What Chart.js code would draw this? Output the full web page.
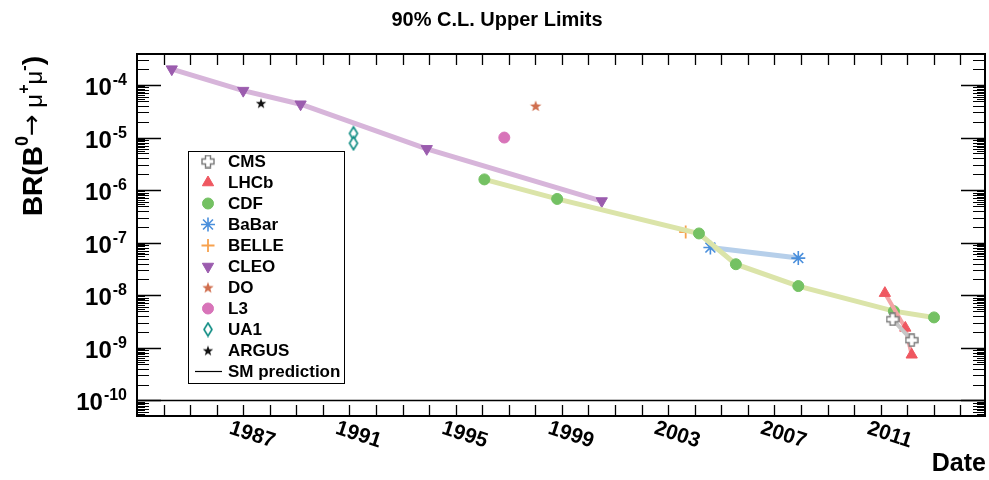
<!DOCTYPE html>
<html>
<head>
<meta charset="utf-8">
<script src="https://cdn.jsdelivr.net/npm/chart.js@4.4.1/dist/chart.umd.min.js"></script>
<style>
  html, body { margin: 0; padding: 0; background: #fff; }
</style>
</head>
<body>
<canvas id="chart" width="989" height="480"></canvas>
<script>
// upper limits on BR(B0 -> mu+ mu-), [decimal year] / [limit]
const cmsYears = [2011.45, 2012.17];
const cmsLimits = [3.5e-9, 1.4e-9];
const lhcbYears = [2011.16, 2011.93, 2012.17];
const lhcbLimits = [1.1e-8, 2.4e-9, 7.4e-10];
const cdfYears = [1996.08, 1998.82, 2004.16, 2005.55, 2007.90, 2011.50, 2013.01];
const cdfLimits = [1.6e-6, 6.8e-7, 1.5e-7, 3.9e-8, 1.5e-8, 5.0e-9, 3.8e-9];
const babarYears = [2004.59, 2007.90];
const babarLimits = [8.1e-8, 5.1e-8];
const belleYears = [2003.66];
const belleLimits = [1.6e-7];
const cleoYears = [1984.31, 1987.0, 1989.16, 1993.91, 2000.50];
const cleoLimits = [2.0e-4, 7.8e-5, 4.3e-5, 6.1e-6, 6.2e-7];
const d0Years = [1998.01];
const d0Limits = [4.0e-5];
const l3Years = [1996.83];
const l3Limits = [1.0e-5];
const ua1Years = [1991.15, 1991.15];
const ua1Limits = [1.2e-5, 7.8e-6];
const argusYears = [1987.67];
const argusLimits = [4.5e-5];

const xTickLabels = ['1987', '1991', '1995', '1999', '2003', '2007', '2011'];
const yTickExponents = [-4, -5, -6, -7, -8, -9, -10];

const FONT = 'Liberation Sans, Arial, Helvetica, sans-serif';

function pts(xs, ys) {
  return xs.map((x, i) => ({ x: x, y: ys[i] }));
}

function makeCanvas(w, h, draw) {
  const c = document.createElement('canvas');
  c.width = w; c.height = h;
  draw(c.getContext('2d'), w, h);
  return c;
}

function starPath(ctx, cx, cy, R, r) {
  ctx.beginPath();
  for (let i = 0; i < 10; i++) {
    const a = -Math.PI / 2 + i * Math.PI / 5;
    const rr = i % 2 ? r : R;
    ctx.lineTo(cx + rr * Math.cos(a), cy + rr * Math.sin(a));
  }
  ctx.closePath();
}

// open cross (CMS)
const openCross = makeCanvas(14, 14, (c) => {
  const a = 2.5, b = 6;
  c.translate(7, 7);
  c.beginPath();
  c.moveTo(-a, -b); c.lineTo(a, -b); c.lineTo(a, -a); c.lineTo(b, -a); c.lineTo(b, a);
  c.lineTo(a, a); c.lineTo(a, b); c.lineTo(-a, b); c.lineTo(-a, a); c.lineTo(-b, a);
  c.lineTo(-b, -a); c.lineTo(-a, -a); c.closePath();
  c.fillStyle = '#fff'; c.fill();
  c.strokeStyle = '#7a7a7a'; c.lineWidth = 1.4; c.stroke();
});
const starD0 = makeCanvas(14, 14, (c) => {
  starPath(c, 7, 7.5, 6, 2.5);
  c.fillStyle = '#d06e4e'; c.fill();
});
const starArgus = makeCanvas(14, 14, (c) => {
  starPath(c, 7, 7.5, 5.5, 2.2);
  c.fillStyle = '#111'; c.fill();
});
const diamondUA1 = makeCanvas(12, 16, (c) => {
  c.beginPath();
  c.moveTo(6, 1.5); c.lineTo(10, 8); c.lineTo(6, 14.5); c.lineTo(2, 8); c.closePath();
  c.fillStyle = '#fff'; c.fill();
  c.strokeStyle = '#0e8c83'; c.lineWidth = 1.6; c.stroke();
});

const series = [
  { label: 'CMS', xs: cmsYears, ys: cmsLimits, line: '#c6c6c6', lw: 4, style: openCross, fill: '#fff', stroke: '#7a7a7a', r: 6 },
  { label: 'LHCb', xs: lhcbYears, ys: lhcbLimits, line: '#f3a3a5', lw: 4, style: 'triangle', fill: '#ef5760', stroke: '#ef5760', r: 6.5 },
  { label: 'CDF', xs: cdfYears, ys: cdfLimits, line: '#dbe4a9', lw: 5, style: 'circle', fill: '#74c163', stroke: '#74c163', r: 5.5 },
  { label: 'BaBar', xs: babarYears, ys: babarLimits, line: '#b6cfea', lw: 5, style: 'star', fill: '#4a8fdc', stroke: '#4a8fdc', r: 7, bw: 1.6 },
  { label: 'BELLE', xs: belleYears, ys: belleLimits, line: null, style: 'cross', fill: '#f7a24f', stroke: '#f7a24f', r: 6.5, bw: 1.8 },
  { label: 'CLEO', xs: cleoYears, ys: cleoLimits, line: '#d7b5da', lw: 5, style: 'triangle', rot: 180, fill: '#9b5cae', stroke: '#9b5cae', r: 6.5 },
  { label: 'DO', xs: d0Years, ys: d0Limits, line: null, style: starD0, fill: '#d06e4e', stroke: '#d06e4e', r: 6 },
  { label: 'L3', xs: l3Years, ys: l3Limits, line: null, style: 'circle', fill: '#d874b9', stroke: '#d874b9', r: 5.5 },
  { label: 'UA1', xs: ua1Years, ys: ua1Limits, line: null, style: diamondUA1, fill: '#fff', stroke: '#0e8c83', r: 6 },
  { label: 'ARGUS', xs: argusYears, ys: argusLimits, line: null, style: starArgus, fill: '#111', stroke: '#111', r: 5 }
];

const datasets = series.map((s) => ({
  label: s.label,
  data: pts(s.xs, s.ys),
  showLine: !!s.line,
  borderColor: s.line || 'transparent',
  borderWidth: s.lw || 0,
  tension: 0,
  pointStyle: s.style,
  pointRotation: s.rot || 0,
  pointRadius: s.r,
  pointBackgroundColor: s.fill,
  pointBorderColor: s.stroke,
  pointBorderWidth: s.bw || 1
}));

function drawMarker(ctx, s, x, y) {
  ctx.save();
  ctx.fillStyle = s.fill;
  ctx.strokeStyle = s.stroke;
  ctx.lineWidth = s.bw || 1;
  Chart.helpers.drawPoint(ctx, { pointStyle: s.style, rotation: s.rot || 0, radius: s.r, borderWidth: s.bw || 1 }, x, y);
  ctx.restore();
}

const frame = {
  id: 'frame',
  afterDraw(chart) {
    const { ctx, chartArea: a, scales: { x, y } } = chart;
    const snap = (v) => Math.round(v) + 0.5;
    ctx.save();
    ctx.strokeStyle = '#000';
    ctx.fillStyle = '#000';

    // frame
    ctx.lineWidth = 2;
    ctx.strokeRect(a.left, a.top, a.right - a.left, a.bottom - a.top);
    const yb = y.getPixelForValue(1e-10);
    ctx.lineWidth = 1.3;
    ctx.beginPath(); ctx.moveTo(a.left, yb); ctx.lineTo(a.right, yb); ctx.stroke();

    // year ticks
    ctx.lineWidth = 1.3;
    ctx.beginPath();
    for (let yr = Math.ceil(x.min + 0.01); yr < x.max; yr++) {
      const p = snap(x.getPixelForValue(yr));
      ctx.moveTo(p, a.top); ctx.lineTo(p, a.top + 11);
      ctx.moveTo(p, a.bottom); ctx.lineTo(p, a.bottom - 11);
    }
    ctx.stroke();

    // log ticks
    const mults = [1, 2, 3, 4, 5, 5.5, 6, 6.5, 7, 7.5, 8, 8.5, 9, 9.5];
    for (let e = -11; e <= -3; e++) {
      mults.forEach((m) => {
        const v = m * Math.pow(10, e);
        if (v < y.min || v > y.max) return;
        const p = snap(y.getPixelForValue(v));
        const len = m === 1 ? 24 : (Number.isInteger(m) ? 12 : 8);
        ctx.lineWidth = m === 1 ? 1.6 : 1;
        ctx.beginPath();
        ctx.moveTo(a.left, p); ctx.lineTo(a.left + len, p);
        ctx.moveTo(a.right, p); ctx.lineTo(a.right - len, p);
        ctx.stroke();
      });
    }

    // y tick labels 10^n
    ctx.textBaseline = 'alphabetic';
    ctx.textAlign = 'left';
    yTickExponents.forEach((e) => {
      const p = y.getPixelForValue(Math.pow(10, e));
      const sup = '-' + String(-e);
      ctx.font = 'bold 24px ' + FONT;
      const w1 = ctx.measureText('10').width;
      ctx.font = 'bold 16px ' + FONT;
      const w2 = ctx.measureText(sup).width;
      const x0 = 126 - w1 - w2;
      ctx.font = 'bold 24px ' + FONT;
      ctx.fillText('10', x0, p + 10);
      ctx.font = 'bold 16px ' + FONT;
      ctx.fillText(sup, x0 + w1 + 1, p);
    });

    // x tick labels (slanted)
    ctx.font = 'bold 21px ' + FONT;
    ctx.textAlign = 'center';
    ctx.textBaseline = 'middle';
    xTickLabels.forEach((lab) => {
      const p = x.getPixelForValue(parseInt(lab, 10));
      ctx.save();
      ctx.translate(p + 9, 435);
      ctx.rotate(18 * Math.PI / 180);
      ctx.fillText(lab, 0, 0);
      ctx.restore();
    });

    // axis titles
    ctx.textAlign = 'right';
    ctx.textBaseline = 'alphabetic';
    ctx.font = 'bold 25px ' + FONT;
    ctx.fillText('Date', 986, 471);

    ctx.textAlign = 'center';
    ctx.font = 'bold 20px ' + FONT;
    ctx.fillText('90% C.L. Upper Limits', 497, 26);

    // y title, rotated
    const parts = [
      ['BR(B', 'bold 28px ' + FONT, 0], ['0', 'bold 18px ' + FONT, -14],
      ['\u2192', '26px DejaVu Sans', -2], [' \u03bc', '24px ' + FONT, 0],
      ['+', 'bold 16px ' + FONT, -13], ['\u03bc', '24px ' + FONT, 0],
      ['-', 'bold 16px ' + FONT, -13], [')', 'bold 28px ' + FONT, 0]
    ];
    ctx.textAlign = 'left';
    let total = 0;
    parts.forEach((pt) => { ctx.font = pt[1]; total += ctx.measureText(pt[0]).width; });
    ctx.save();
    ctx.translate(42, 56 + total);
    ctx.rotate(-Math.PI / 2);
    let cx = 0;
    parts.forEach((pt) => {
      ctx.font = pt[1];
      ctx.fillText(pt[0], cx, pt[2]);
      cx += ctx.measureText(pt[0]).width;
    });
    ctx.restore();

    // legend
    const lx = 188, ly = 151, lw = 156, lh = 232;
    ctx.lineWidth = 1;
    ctx.fillStyle = '#fff';
    ctx.fillRect(lx, ly, lw, lh);
    ctx.strokeStyle = '#000';
    ctx.strokeRect(lx + 0.5, ly + 0.5, lw, lh);
    ctx.font = 'bold 17px ' + FONT;
    ctx.textBaseline = 'middle';
    series.forEach((s, i) => {
      const ry = 161.5 + i * 21;
      drawMarker(ctx, s, 208, ry);
      ctx.fillStyle = '#000';
      ctx.fillText(s.label, 228, ry + 1);
    });
    const sy = 161.5 + series.length * 21;
    ctx.strokeStyle = '#000';
    ctx.lineWidth = 1.2;
    ctx.beginPath(); ctx.moveTo(195, sy); ctx.lineTo(222, sy); ctx.stroke();
    ctx.fillStyle = '#000';
    ctx.fillText('SM prediction', 228, sy + 1);

    ctx.restore();
  }
};

new Chart(document.getElementById('chart'), {
  type: 'scatter',
  data: { datasets: datasets },
  options: {
    responsive: false,
    animation: false,
    layout: { autoPadding: false, padding: { top: 54, right: 4, left: 0, bottom: 0 } },
    plugins: { legend: { display: false }, tooltip: { enabled: false }, title: { display: false } },
    scales: {
      x: {
        type: 'linear', min: 1983, max: 2014.93,
        ticks: { display: false }, grid: { display: false }, border: { display: false },
        afterFit(s) { s.height = 64; }
      },
      y: {
        type: 'logarithmic', min: 5.07e-11, max: 3.88e-4,
        ticks: { display: false }, grid: { display: false }, border: { display: false },
        afterFit(s) { s.width = 137; }
      }
    }
  },
  plugins: [frame]
});
</script>
</body>
</html>
